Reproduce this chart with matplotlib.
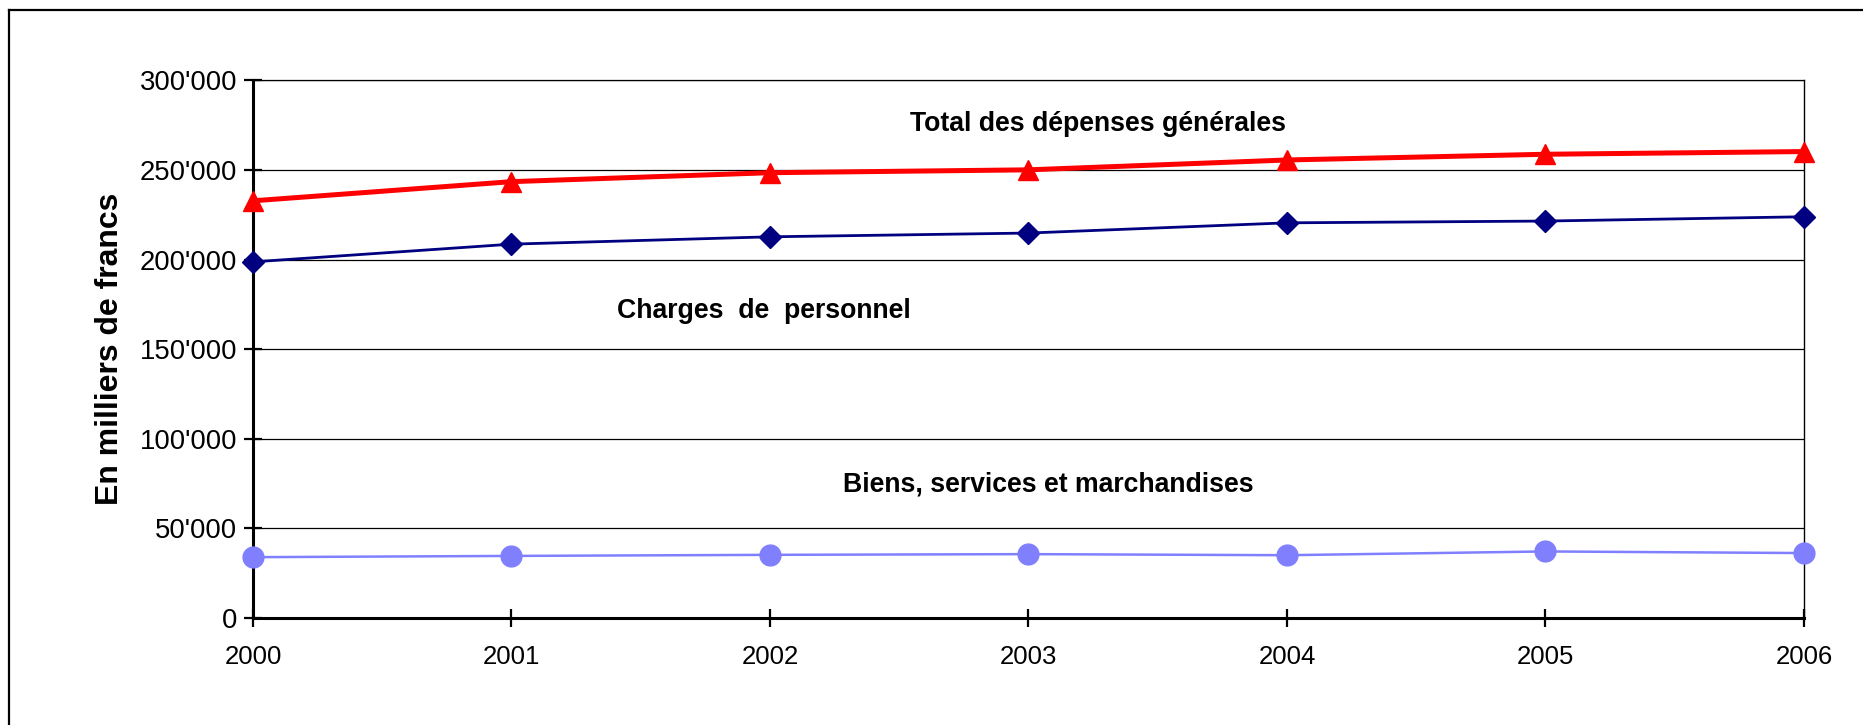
import matplotlib
matplotlib.use('Agg')
import matplotlib.pyplot as plt
from matplotlib.lines import Line2D
from matplotlib.ticker import FuncFormatter

# Données (en milliers de francs)
annees = [2000, 2001, 2002, 2003, 2004, 2005, 2006]
total = [232800, 243500, 248500, 250100, 255600, 258800, 260300]
charges = [198700, 208600, 212700, 214800, 220500, 221500, 223900]
biens = [33800, 34500, 35100, 35500, 34900, 37000, 36100]

plt.rcParams['font.family'] = ['Liberation Sans', 'DejaVu Sans']

fig = plt.figure(figsize=(18.63, 7.25), dpi=100)
ax = fig.add_axes([0.1358, 0.148, 0.8325, 0.741])

# Cadre extérieur (coupé à droite et en bas)
fig.add_artist(Line2D([9 / 1863, 1.0], [1 - 10 / 725, 1 - 10 / 725], color='black', lw=1.6, transform=fig.transFigure))
fig.add_artist(Line2D([9 / 1863, 9 / 1863], [0.0, 1 - 10 / 725], color='black', lw=1.6, transform=fig.transFigure))

# Quadrillage
for v in range(50000, 300001, 50000):
    ax.axhline(v, color='black', lw=0.9, zorder=1)

ax.plot(annees, total, color='#FF0000', lw=3.6, marker='^', ms=14, clip_on=False, zorder=5)
ax.plot(annees, charges, color='#000080', lw=2.0, marker='D', ms=11, clip_on=False, zorder=4)
ax.plot(annees, biens, color='#8080FF', lw=1.8, marker='o', ms=15, clip_on=False, zorder=4)

ax.set_xlim(2000, 2006)
ax.set_ylim(0, 300000)
ax.set_xticks(annees)
ax.set_yticks(range(0, 300001, 50000))
ax.yaxis.set_major_formatter(FuncFormatter(lambda v, p: f"{int(v):,}".replace(',', "'")))

for s in ['left', 'bottom']:
    ax.spines[s].set_linewidth(2.2)
ax.spines['top'].set_linewidth(0.9)
ax.spines['right'].set_linewidth(1.0)

ax.tick_params(axis='both', direction='inout', length=13, width=1.6)
ax.tick_params(axis='x', pad=13, labelsize=18.5)
ax.tick_params(axis='y', pad=5, labelsize=19.8)

# Étiquettes des séries
ax.text(2003.27, 271800, 'Total des dépenses générales', ha='center', va='baseline',
        fontsize=19.2, fontweight='bold')
ax.text(2001.975, 167400, 'Charges  de  personnel', ha='center', va='baseline',
        fontsize=19.2, fontweight='bold')
ax.text(2003.075, 70200, 'Biens, services et marchandises', ha='center', va='baseline',
        fontsize=19.2, fontweight='bold')

fig.text(110 / 1863, 1 - 349 / 725, 'En milliers de francs', rotation=90, ha='center', va='center',
         fontsize=23, fontweight='bold')

plt.savefig('out.png', dpi=100)
